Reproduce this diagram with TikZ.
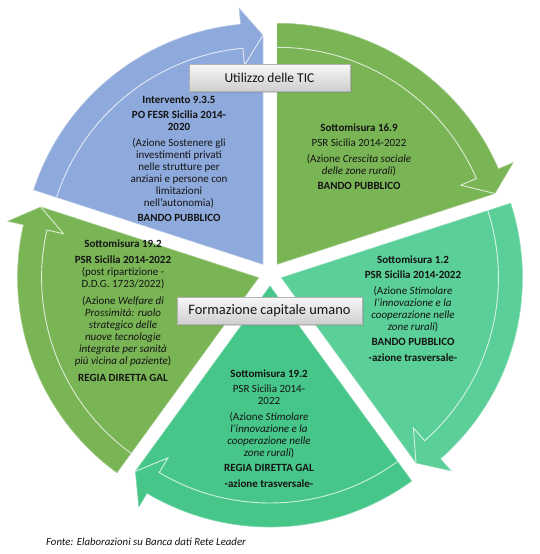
\documentclass[tikz,border=0pt]{standalone}
\usepackage{fontspec}
\setmainfont{Carlito}
\usetikzlibrary{shadows}
\definecolor{cblue}{HTML}{8EA9DB}
\definecolor{cgreen}{HTML}{79B455}
\definecolor{cteal}{HTML}{5ACF98}
\definecolor{cteald}{HTML}{47C68A}
\definecolor{ctext}{HTML}{141414}
\def\Rout{241pt}\def\Rin{217pt}\def\Rtip{229pt}\def\Rwo{257pt}\def\Rwi{200pt}\def\Wa{5.3}
\newcommand\mysegment[4]{%
  \begin{scope}[shift={(270,-274)}]
  \begin{scope}[shift={(#4:12pt)}]
    \fill[#1, draw=#1!70!white, line width=0.6pt]
      (0,0) -- (#2:\Rtip) -- ({#2+\Wa}:\Rwo) -- ({#2+\Wa}:\Rout)
      arc[start angle={#2+\Wa}, end angle=#3, radius=\Rout] -- cycle;
    \draw[white, opacity=0.75, line width=0.9pt]
      (#3:\Rin) arc[start angle=#3, end angle={#2+\Wa}, radius=\Rin]
      -- ({#2+\Wa}:\Rwi) -- (#2:\Rtip);
  \end{scope}
  \end{scope}}
\tikzset{
  txt/.style={align=center, font=\fontsize{11}{12}\selectfont, text=ctext, inner sep=0pt, anchor=north},
  titlebox/.style={draw=gray!60, top color=gray!6, bottom color=gray!38, minimum height=27pt,
     text=ctext, inner sep=0pt,
     drop shadow={opacity=0.3, shadow xshift=2pt, shadow yshift=-2pt}}
}
\begin{document}
\begin{tikzpicture}[x=1pt,y=1pt]
\useasboundingbox (0,0) rectangle (539,-554);
\fill[white] (0,0) rectangle (539,-554);
\mysegment{cblue}{90}{162}{126}
\mysegment{cgreen}{18}{90}{54}
\mysegment{cteal}{-54}{18}{-18}
\mysegment{cteald}{-126}{-54}{-90}
\mysegment{cgreen}{162}{234}{198}

\node[titlebox, minimum width=161pt, font=\fontsize{13.5}{16}\selectfont] (tic) at (269.5,-77.5) {Utilizzo delle TIC};
\node[titlebox, minimum width=185pt, font=\fontsize{14.4}{16}\selectfont] (form) at (269.5,-310.5) {Formazione capitale umano};

\node[txt] (blue) at (179,-96) {\textbf{Intervento 9.3.5}\\[3.5pt]
\textbf{PO FESR Sicilia 2014-}\\ \textbf{2020}\\[3.5pt]
(Azione Sostenere gli\\ investimenti privati\\ nelle strutture per\\ anziani e persone con\\ limitazioni\\ nell’autonomia)\\[3.5pt]
\textbf{BANDO PUBBLICO}};

\node[txt] (green) at (359,-123.5) {\textbf{Sottomisura 16.9}\\[3.5pt]
PSR Sicilia 2014-2022\\[3.5pt]
(Azione \textit{Crescita sociale}\\ \textit{delle zone rurali})\\[3.5pt]
\textbf{BANDO PUBBLICO}};

\node[txt] (teal) at (413,-255.5) {\textbf{Sottomisura 1.2}\\[3.5pt]
\textbf{PSR Sicilia 2014-2022}\\[3.5pt]
(Azione \textit{Stimolare}\\ \textit{l’innovazione e la}\\ \textit{cooperazione nelle}\\ \textit{zone rurali})\\[3.5pt]
\textbf{BANDO PUBBLICO}\\[3.5pt]
\textbf{-azione trasversale-}};

\node[txt] (bottom) at (269,-369.5) {\textbf{Sottomisura 19.2}\\[3.5pt]
PSR Sicilia 2014-\\ 2022\\[3.5pt]
(Azione \textit{Stimolare}\\ \textit{l’innovazione e la}\\ \textit{cooperazione nelle}\\ \textit{zone rurali})\\[3.5pt]
\textbf{REGIA DIRETTA GAL}\\[4pt]
\textbf{-azione trasversale-}};

\node[txt] (left) at (123,-239.5) {\textbf{Sottomisura 19.2}\\[4.5pt]
\textbf{PSR Sicilia 2014-2022}\\ (post ripartizione -\\ D.D.G. 1723/2022)\\[4.5pt]
(Azione \textit{Welfare di}\\ \textit{Prossimità: ruolo}\\ \textit{strategico delle}\\ \textit{nuove tecnologie}\\ \textit{integrate per sanità}\\ \textit{più vicina al paziente})\\[5pt]
\textbf{REGIA DIRETTA GAL}};

\node[anchor=west, inner sep=0pt, font=\fontsize{10.8}{12}\selectfont\itshape, text=ctext] (fonte) at (46,-542) {Fonte: Elaborazioni su Banca dati Rete Leader};
\end{tikzpicture}
\end{document}
